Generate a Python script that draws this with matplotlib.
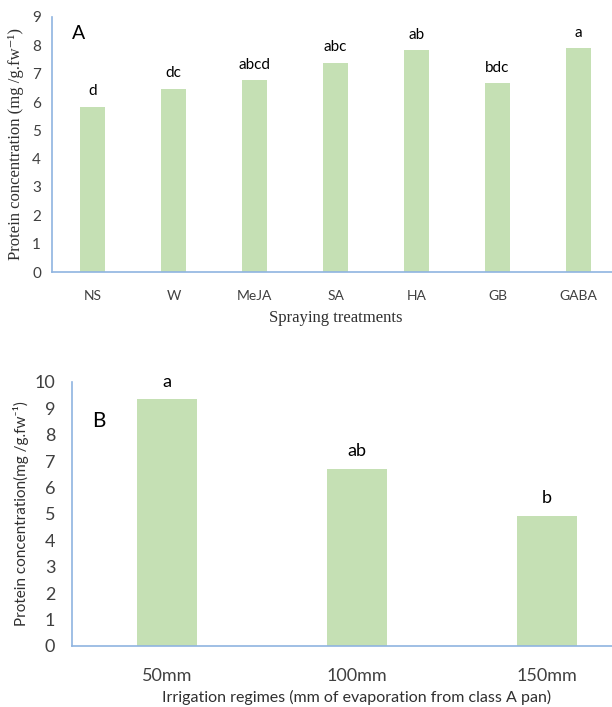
import matplotlib
matplotlib.use("Agg")
import matplotlib.pyplot as plt
import numpy as np

# panel A data
treatments = ["NS", "W", "MeJA", "SA", "HA", "GB", "GABA"]
protein_a = [5.83, 6.46, 6.77, 7.39, 7.83, 6.67, 7.90]
letters_a = ["d", "dc", "abcd", "abc", "ab", "bdc", "a"]

# panel B data
regimes = ["50mm", "100mm", "150mm"]
protein_b = [9.36, 6.72, 4.94]
letters_b = ["a", "ab", "b"]

bar_col = "#C5E0B4"
axis_col = "#8FB4E0"
tick_col = "#404040"
sans = ["Lato", "DejaVu Sans"]
serif = ["Liberation Serif", "DejaVu Serif"]

W, H = 612, 707
fig = plt.figure(figsize=(W / 100, H / 100), dpi=100)


def px_axes(left, top, right, bottom):
    return fig.add_axes([left / W, 1 - bottom / H, (right - left) / W, (bottom - top) / H])


def style(ax):
    for s in ["top", "right"]:
        ax.spines[s].set_visible(False)
    for s in ["left", "bottom"]:
        ax.spines[s].set_color(axis_col)
        ax.spines[s].set_linewidth(1.2)
    ax.tick_params(length=0, colors=tick_col)


# ---- A ----
axA = px_axes(52, 17, 619, 272)
x = np.arange(len(treatments))
axA.bar(x, protein_a, width=0.32, color=bar_col)
axA.set_xlim(-0.5, 6.5)
axA.set_ylim(0, 9)
axA.set_yticks(range(10))
axA.set_xticks(x)
axA.set_xticklabels(treatments, fontsize=10, family=sans)
for lab in axA.get_yticklabels():
    lab.set_family(sans)
    lab.set_fontsize(11)
axA.tick_params(axis="x", pad=13)
axA.tick_params(axis="y", pad=8)
style(axA)
for xi, v, l in zip(x, protein_a, letters_a):
    axA.text(xi, v + 0.3, l, ha="center", va="bottom", fontsize=11, family=sans, color="black")
axA.text(0.035, 0.97, "A", transform=axA.transAxes, fontsize=14, family=sans, va="top")
axA.set_ylabel("Protein concentration (mg /g.fw⁻¹)", family=serif, fontsize=12, color="#303030", labelpad=6)
axA.set_xlabel("Spraying treatments", family=serif, fontsize=12, color="#303030", labelpad=6)

# ---- B ----
axB = px_axes(72, 382, 642, 646)
xb = np.arange(len(regimes))
axB.bar(xb, protein_b, width=0.315, color=bar_col)
axB.set_xlim(-0.5, 2.5)
axB.set_ylim(0, 10)
axB.set_yticks(range(11))
axB.set_xticks(xb)
axB.set_xticklabels(regimes, fontsize=13, family=sans)
for lab in axB.get_yticklabels():
    lab.set_family(sans)
    lab.set_fontsize(13)
axB.tick_params(axis="x", pad=16)
axB.tick_params(axis="y", pad=12)
style(axB)
for xi, v, l in zip(xb, protein_b, letters_b):
    axB.text(xi, v + 0.35, l, ha="center", va="bottom", fontsize=13, family=sans, color="black")
axB.text(0.035, 0.89, "B", transform=axB.transAxes, fontsize=15, family=sans, va="top")
axB.set_ylabel("Protein concentration(mg /g.fw⁻¹)", family=sans, fontsize=11, color="#303030", labelpad=4)
axB.set_xlabel("Irrigation regimes (mm of evaporation from class A pan)", family=sans, fontsize=11.5,
               color="#303030", labelpad=4)

fig.savefig("out.png", dpi=100)
